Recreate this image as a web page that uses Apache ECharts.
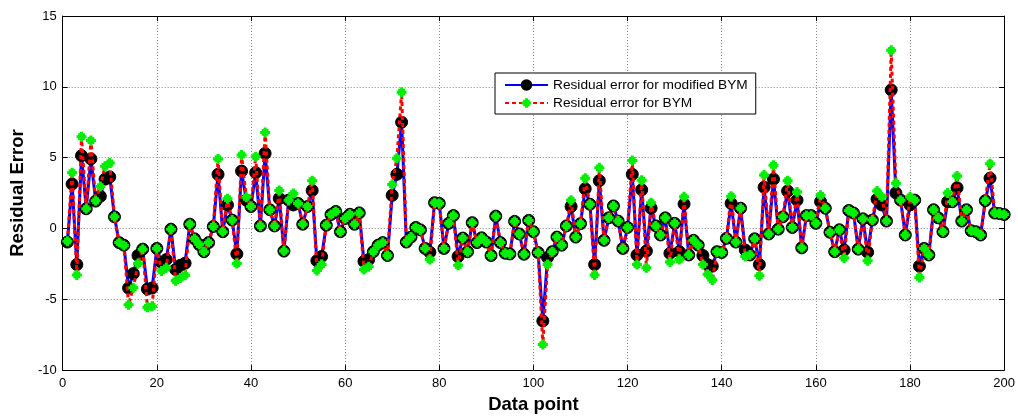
<!DOCTYPE html>
<html><head><meta charset="utf-8">
<script src="https://cdn.jsdelivr.net/npm/echarts@6/dist/echarts.min.js"></script>
<style>html,body{margin:0;padding:0;background:#fff}#c{width:1018px;height:419px}</style>
</head><body><div id="c"></div>
<script>
// x tick values and y tick values
const xTicks = [0, 20, 40, 60, 80, 100, 120, 140, 160, 180, 200];
const yTicks = [-10, -5, 0, 5, 10, 15];
const seriesNames = ['Residual error for modified BYM', 'Residual error for BYM'];

// Residual error for modified BYM, data points 1..200
const modifiedBYM = [
 -0.96, 3.14, -2.55, 5.14, 1.39, 4.91, 1.93, 2.27, 3.48, 3.64,
 0.82, -1.0, -1.18, -4.21, -3.19, -1.91, -1.46, -4.28, -4.2, -1.41,
 -2.4, -2.2, -0.05, -2.9, -2.6, -2.45, 0.3, -0.73, -1.14, -1.64,
 -1.0, 0.14, 3.82, -0.23, 1.66, 0.59, -1.8, 4.05, 2.0, 1.55,
 3.94, 0.18, 5.3, 1.32, 0.18, 2.12, -1.6, 2.0, 1.66, 1.77,
 0.3, 1.55, 2.68, -2.28, -1.98, 0.23, 0.98, 1.2, -0.23, 0.7,
 1.0, 0.3, 1.1, -2.32, -2.2, -1.64, -1.18, -1.0, -1.91, 2.34,
 3.82, 7.5, -0.96, -0.61, 0.07, -0.1, -1.41, -1.68, 1.82, 1.77,
 -1.41, 0.36, 0.91, -1.98, -0.68, -1.64, 0.41, -1.0, -0.66, -0.96,
 -1.91, 0.87, -1.0, -1.75, -1.8, 0.5, -0.39, -1.82, 0.57, -0.23,
 -1.7, -6.53, -2.05, -1.64, -0.61, -1.18, 0.18, 1.55, -0.61, 0.34,
 2.8, 1.71, -2.55, 3.37, -0.84, 0.75, 1.59, 0.52, -1.41, 0.07,
 3.82, -1.87, 2.73, -1.59, 1.43, 0.18, -0.46, 0.75, -1.75, 0.36,
 -1.64, 1.73, -1.87, -0.84, -1.18, -1.91, -2.55, -2.66, -1.64, -1.7,
 -0.7, 1.77, -0.96, 1.43, -1.52, -1.87, -0.73, -2.55, 2.91, -0.39,
 3.48, -0.05, 0.82, 2.64, 0.07, 2.0, -1.37, 0.91, 0.91, 0.36,
 1.89, 1.43, -0.27, -1.64, -0.09, -1.52, 1.27, 1.09, -1.46, 0.68,
 -1.68, 0.59, 2.07, 1.66, 0.52, 9.78, 2.51, 2.0, -0.46, 1.66,
 2.0, -2.66, -1.41, -1.87, 1.32, 0.75, -0.23, 1.89, 1.89, 2.87,
 0.52, 1.32, -0.16, -0.23, -0.46, 1.96, 3.55, 1.09, 1.05, 0.98
];

// Residual error for BYM, data points 1..200
const BYM = [
 -0.9, 3.94, -3.28, 6.48, 1.39, 6.21, 1.95, 2.96, 4.39, 4.62,
 0.82, -1.0, -1.2, -5.39, -4.19, -2.48, -1.46, -5.57, -5.5, -1.41,
 -3.0, -2.78, -0.05, -3.7, -3.5, -3.3, 0.3, -0.73, -1.14, -1.64,
 -1.0, 0.14, 4.91, -0.23, 2.1, 0.59, -2.48, 5.19, 2.2, 1.55,
 5.07, 0.18, 6.78, 1.32, 0.18, 2.68, -1.6, 2.0, 2.46, 1.77,
 0.3, 1.55, 3.37, -2.96, -2.55, 0.23, 0.98, 1.2, -0.23, 0.7,
 1.0, 0.3, 1.1, -2.89, -2.7, -1.64, -1.18, -1.0, -1.91, 3.1,
 4.96, 9.62, -0.96, -0.61, 0.07, -0.1, -1.41, -2.2, 1.82, 1.77,
 -1.41, 0.36, 0.91, -2.6, -0.68, -1.64, 0.41, -1.0, -0.66, -0.96,
 -1.91, 0.87, -1.0, -1.75, -1.8, 0.5, -0.39, -1.82, 0.57, -0.23,
 -1.7, -8.2, -2.55, -1.64, -0.61, -1.18, 0.18, 2.0, -0.61, 0.34,
 3.55, 1.71, -3.28, 4.28, -0.84, 0.75, 1.59, 0.52, -1.41, 0.07,
 4.8, -2.55, 3.41, -2.78, 1.82, 0.18, -0.46, 0.75, -2.37, 0.36,
 -2.2, 2.23, -1.87, -0.84, -1.18, -2.55, -3.23, -3.64, -1.64, -1.7,
 -0.7, 2.28, -0.96, 1.43, -1.98, -1.87, -0.73, -3.34, 3.78, -0.39,
 4.46, -0.05, 0.82, 3.37, 0.07, 2.57, -1.37, 0.91, 0.91, 0.36,
 2.34, 1.43, -0.27, -1.64, -0.09, -2.09, 1.27, 1.09, -1.46, 0.68,
 -2.28, 0.59, 2.64, 2.23, 0.52, 12.58, 3.19, 2.0, -0.46, 2.23,
 2.0, -3.46, -1.41, -1.87, 1.32, 0.75, -0.23, 2.5, 1.89, 3.71,
 0.52, 1.32, -0.16, -0.23, -0.46, 1.96, 4.57, 1.09, 1.05, 0.98
];

const FONT = 'Arial, "Liberation Sans", sans-serif';
const plusPath = 'path://M3.5,0 H6.5 V3.5 H10 V6.5 H6.5 V10 H3.5 V6.5 H0 V3.5 H3.5 Z M1.6,1.6 L8.4,1.6 L8.4,8.4 L1.6,8.4 Z';

const chart = echarts.init(document.getElementById('c'), null, {renderer: 'canvas'});
const xMin = xTicks[0], xMax = xTicks[xTicks.length - 1], xStep = xTicks[1] - xTicks[0];
const yMin = yTicks[0], yMax = yTicks[yTicks.length - 1], yStep = yTicks[1] - yTicks[0];

const axisCommon = {
  axisLine: {show: true, onZero: false, lineStyle: {color: '#000', width: 1}},
  axisTick: {show: true, inside: true, length: 5, lineStyle: {color: '#000'}},
};

chart.setOption({
  animation: false,
  backgroundColor: '#fff',
  grid: {left: 60, right: 11, top: 16, bottom: 36, show: false},
  legend: {
    orient: 'vertical', left: 495, top: 73,
    backgroundColor: '#fff', borderColor: '#000', borderWidth: 1,
    padding: [5, 8, 4, 9], itemGap: 4, itemWidth: 43, itemHeight: 12,
    textStyle: {fontFamily: FONT, fontSize: 13.7, color: '#000'},
    data: seriesNames
  },
  xAxis: [{
    type: 'value', min: xMin, max: xMax, interval: xStep, position: 'bottom',
    name: 'Data point', nameLocation: 'middle', nameGap: 17,
    nameTextStyle: {fontFamily: FONT, fontSize: 18.5, fontWeight: 'bold', color: '#000'},
    ...axisCommon,
    axisLabel: {fontFamily: FONT, fontSize: 13, color: '#000', margin: 7},
    splitLine: {show: true, lineStyle: {color: '#888', type: [1, 2], width: 1}}
  }, {
    type: 'value', min: xMin, max: xMax, interval: xStep, position: 'top',
    ...axisCommon, axisLabel: {show: false}, splitLine: {show: false}
  }],
  yAxis: [{
    type: 'value', min: yMin, max: yMax, interval: yStep, position: 'left',
    name: 'Residual Error', nameLocation: 'middle', nameGap: 28,
    nameTextStyle: {fontFamily: FONT, fontSize: 18.5, fontWeight: 'bold', color: '#000'},
    ...axisCommon,
    axisLabel: {fontFamily: FONT, fontSize: 13, color: '#000', margin: 6},
    splitLine: {show: true, lineStyle: {color: '#888', type: [1, 2], width: 1}}
  }, {
    type: 'value', min: yMin, max: yMax, interval: yStep, position: 'right',
    ...axisCommon, axisLabel: {show: false}, splitLine: {show: false}
  }],
  series: [{
    name: seriesNames[0], type: 'line', z: 2,
    data: modifiedBYM.map((v, i) => [i + 1, v]),
    lineStyle: {color: '#0000ff', width: 3},
    itemStyle: {color: '#000', borderColor: '#000', borderWidth: 1},
    symbol: 'circle', symbolSize: 12, showAllSymbol: true
  }, {
    name: seriesNames[1], type: 'line', z: 3,
    data: BYM.map((v, i) => [i + 1, v]),
    lineStyle: {color: '#ff0000', width: 3, type: [4, 3]},
    itemStyle: {color: '#00ee00', borderWidth: 0},
    symbol: plusPath, symbolSize: 10, showAllSymbol: true
  }]
});
</script></body></html>
